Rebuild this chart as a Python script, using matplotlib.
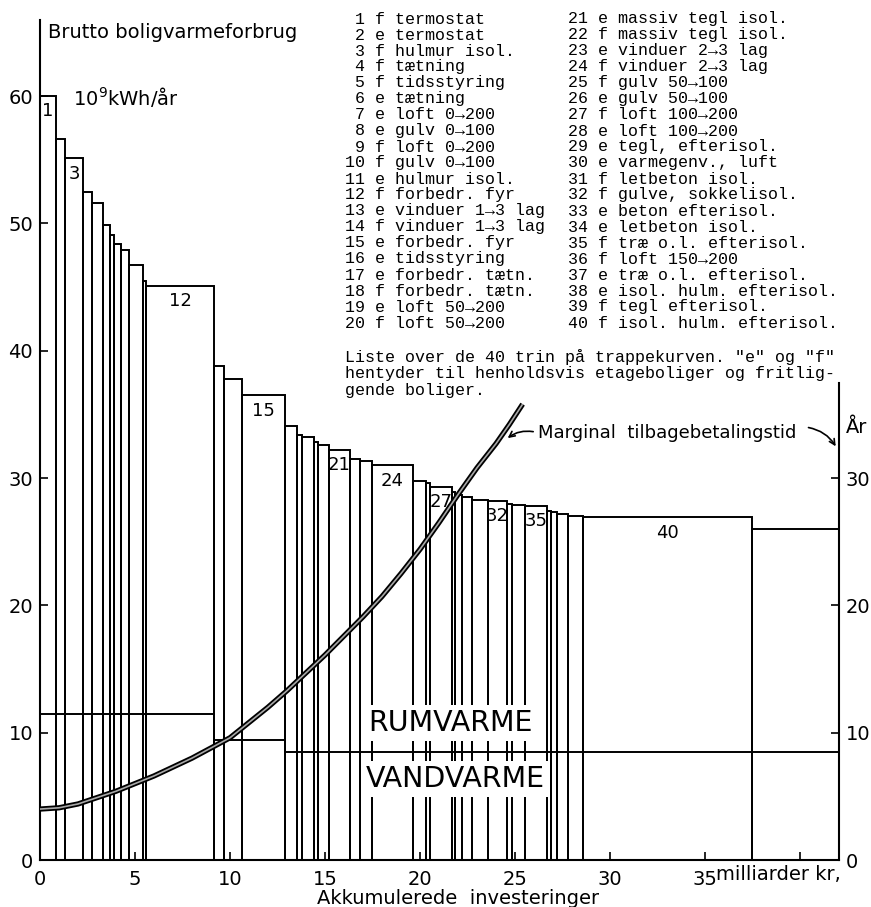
import numpy as np
import matplotlib.pyplot as plt

# trappekurve: akkumuleret investering (mia. kr) ved slut af hvert trin og forbrug (10^9 kWh/aar)
invest_end = [0.84, 1.32, 2.26, 2.74, 3.32, 3.68, 3.89, 4.26, 4.68, 5.42,
              5.58, 9.16, 9.68, 10.63, 12.89, 13.53, 13.79, 14.42, 14.63, 15.21,
              16.32, 16.84, 17.47, 19.63, 20.32, 20.53, 21.68, 21.84, 22.21, 22.74,
              23.58, 24.58, 24.84, 25.53, 26.68, 26.89, 27.21, 27.79, 28.58, 37.47]
forbrug = [60, 56.6, 55.1, 52.5, 51.6, 49.9, 49.1, 48.4, 47.9, 46.7,
           45.5, 45.1, 38.8, 37.8, 36.5, 34.1, 33.4, 33.25, 32.8, 32.6,
           32.2, 31.5, 31.3, 31.0, 29.8, 29.6, 29.3, 28.9, 28.7, 28.5,
           28.3, 28.2, 27.95, 27.85, 27.8, 27.4, 27.3, 27.2, 27.05, 26.9]
rest_end = 42.05
rest_level = 26.0
labeled_steps = [1, 3, 12, 15, 21, 24, 27, 32, 35, 40]

# vandvarme-niveau
vand_end = [9.16, 12.89, 42.05]
vand_level = [11.5, 9.45, 8.5]

# marginal tilbagebetalingstid (aar) aflaest paa kurven
kurve_x = [0, 1, 2, 3, 4, 5, 6, 7, 8, 9, 10, 11, 12, 13, 14, 15, 16, 17, 18,
           19, 20, 21, 22, 23, 24, 24.7, 25.4]
kurve_y = [4.0, 4.1, 4.4, 4.9, 5.4, 6.0, 6.6, 7.3, 8.0, 8.8, 9.6, 10.8, 12.0,
           13.3, 14.7, 16.1, 17.6, 19.1, 20.7, 22.5, 24.4, 26.5, 28.7, 30.8,
           32.7, 34.2, 35.8]

liste = ["f termostat", "e termostat", "f hulmur isol.", "f tætning", "f tidsstyring",
         "e tætning", "e loft 0→200", "e gulv 0→100", "f loft 0→200", "f gulv 0→100",
         "e hulmur isol.", "f forbedr. fyr", "e vinduer 1→3 lag", "f vinduer 1→3 lag",
         "e forbedr. fyr", "e tidsstyring", "e forbedr. tætn.", "f forbedr. tætn.",
         "e loft 50→200", "f loft 50→200",
         "e massiv tegl isol.", "f massiv tegl isol.", "e vinduer 2→3 lag",
         "f vinduer 2→3 lag", "f gulv 50→100", "e gulv 50→100", "f loft 100→200",
         "e loft 100→200", "e tegl, efterisol.", "e varmegenv., luft",
         "f letbeton isol.", "f gulve, sokkelisol.", "e beton efterisol.",
         "e letbeton isol.", "f træ o.l. efterisol.", "f loft 150→200",
         "e træ o.l. efterisol.", "e isol. hulm. efterisol.", "f tegl efterisol.",
         "f isol. hulm. efterisol."]
note = ['Liste over de 40 trin på trappekurven. "e" og "f"',
        'hentyder til henholdsvis etageboliger og fritlig-',
        'gende boliger.']

W, H = 871, 907
fig = plt.figure(figsize=(W / 100, H / 100), dpi=100)
ax = fig.add_axes([40 / W, 47 / H, 799 / W, 840 / H])

def px(x, y):
    # pixel i billedet -> figurkoordinater
    return x / W, 1 - y / H

# trappen
start = [0] + invest_end[:-1]
widths = np.diff([0] + invest_end)
ax.bar(start, forbrug, width=widths, align='edge', fill=False,
       edgecolor='black', linewidth=1.4, zorder=2)
ax.bar(invest_end[-1], rest_level, width=rest_end - invest_end[-1], align='edge',
       fill=False, edgecolor='black', linewidth=1.4, zorder=2)
for n in labeled_steps:
    xc = (start[n - 1] + invest_end[n - 1]) / 2
    ax.text(xc, forbrug[n - 1] - 0.5, str(n), ha='center', va='top', fontsize=13)

# rumvarme / vandvarme
vand_start = [0] + vand_end[:-1]
ax.hlines(vand_level, vand_start, vand_end, color='black', linewidth=1.4, zorder=4)
ax.text(21.6, 10.75, 'RUMVARME', ha='center', va='center', fontsize=20.5, zorder=3,
        bbox=dict(facecolor='white', edgecolor='none', pad=3))
ax.text(21.85, 6.35, 'VANDVARME', ha='center', va='center', fontsize=20.5, zorder=3,
        bbox=dict(facecolor='white', edgecolor='none', pad=3))

ax.set_xlim(0, rest_end)
ax.set_ylim(0, 65.97)
ax.spines['top'].set_visible(False)
ax.spines['right'].set_visible(False)
for s in ax.spines.values():
    s.set_linewidth(1.5)
ax.set_xticks(np.arange(0, 41, 5))
ax.set_xticklabels(['0', '5', '10', '15', '20', '25', '30', '35', ''])
ax.set_yticks(np.arange(0, 61, 10))
ax.tick_params(axis='both', direction='in', length=6, width=1.2, labelsize=14)
ax.tick_params(axis='x', pad=7)
ax.tick_params(axis='y', pad=5)

# tilbagebetalingstid paa hoejre akse
ax2 = ax.twinx()
ax2.set_ylim(0, 65.97)
ax2.plot(kurve_x, kurve_y, color='black', linewidth=3.8, solid_capstyle='butt', zorder=5)
ax2.plot(kurve_x, kurve_y, color='#a8a8a8', linewidth=1.2, solid_capstyle='butt', zorder=6)
for side in ['top', 'left', 'bottom']:
    ax2.spines[side].set_visible(False)
ax2.spines['right'].set_bounds(0, 37.5)
ax2.spines['right'].set_linewidth(1.5)
ax2.set_yticks([0, 10, 20, 30])
ax2.tick_params(axis='y', direction='in', length=6, width=1.2, labelsize=14, pad=5)

ax2.text(26.2, 33.5, 'Marginal  tilbagebetalingstid', ha='left', va='center', fontsize=13)
ax2.annotate('', xy=(24.5, 33.0), xytext=(26.1, 33.6),
             arrowprops=dict(arrowstyle='->', color='black', lw=1.2,
                             connectionstyle='arc3,rad=0.25'))
ax2.annotate('', xy=(41.95, 32.3), xytext=(40.3, 34.0),
             arrowprops=dict(arrowstyle='->', color='black', lw=1.2,
                             connectionstyle='arc3,rad=-0.25'))

# tekster
fig.text(*px(48, 33), 'Brutto boligvarmeforbrug', ha='left', va='center', fontsize=14)
fig.text(*px(73, 97), '10$^9$kWh/år', ha='left', va='center', fontsize=14)
fig.text(*px(846, 427), 'År', ha='left', va='center', fontsize=14)
fig.text(*px(716, 874), 'milliarder kr,', ha='left', va='center', fontsize=14)
fig.text(*px(458, 898), 'Akkumulerede  investeringer', ha='center', va='center', fontsize=14)

mono = ['Liberation Mono', 'DejaVu Sans Mono']
for i, item in enumerate(liste):
    col, row = divmod(i, 20)
    x0 = 345 if col == 0 else 568
    fig.text(*px(x0, 19 + 16 * row), f"{i + 1:2d} {item}", ha='left', va='center',
             fontsize=12, family=mono)
for j, line in enumerate(note):
    fig.text(*px(345, 357 + 16.5 * j), line, ha='left', va='center',
             fontsize=12, family=mono)

fig.savefig('out.png', dpi=100)
